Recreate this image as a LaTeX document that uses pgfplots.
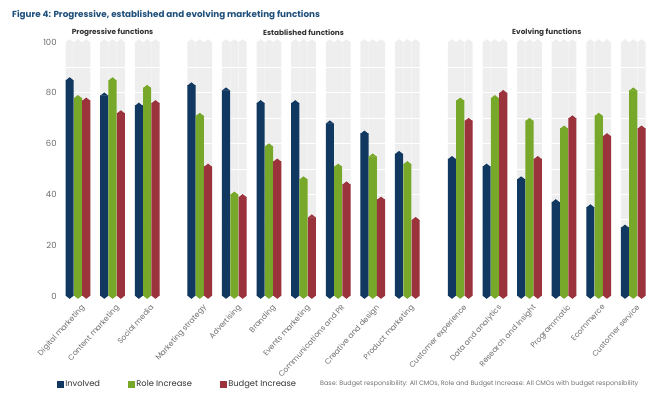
\documentclass[border=0pt]{standalone}
\usepackage{fontspec}
\setmainfont{Poppins}
\usepackage{pgfplots}
\pgfplotsset{compat=1.18}
\usepackage{pgfplotstable}

\definecolor{inv}{RGB}{16,56,96}
\definecolor{role}{RGB}{120,168,42}
\definecolor{bud}{RGB}{155,51,61}
\definecolor{track}{RGB}{238,238,238}
\definecolor{titleblue}{RGB}{30,78,122}
\definecolor{txt}{RGB}{50,50,50}
\definecolor{lbl}{RGB}{110,110,110}

\pgfdeclareplotmark{tipup}{%
  \pgfpathmoveto{\pgfpoint{-\pgfplotmarksize}{-0.4pt}}%
  \pgfpathlineto{\pgfpoint{0pt}{0.7\pgfplotmarksize}}%
  \pgfpathlineto{\pgfpoint{\pgfplotmarksize}{-0.4pt}}%
  \pgfpathclose\pgfusepathqfill}
\pgfdeclareplotmark{tipdown}{%
  \pgfpathmoveto{\pgfpoint{-\pgfplotmarksize}{0.4pt}}%
  \pgfpathlineto{\pgfpoint{0pt}{-0.7\pgfplotmarksize}}%
  \pgfpathlineto{\pgfpoint{\pgfplotmarksize}{0.4pt}}%
  \pgfpathclose\pgfusepathqfill}

\pgfplotstableread{
x     inv role bud full
0     85  78   77  100
1     79  85   72  100
2     75  82   76  100
3.52  83  71   51  100
4.52  81  40   39  100
5.52  76  59   53  100
6.52  76  46   31  100
7.52  68  51   44  100
8.52  64  55   38  100
9.52  56  52   30  100
11.05 54  77   69  100
12.05 51  78   80  100
13.05 46  69   54  100
14.05 37  66   70  100
15.05 35  71   63  100
16.05 27  81   66  100
}\data

\begin{document}
\begin{tikzpicture}
\begin{axis}[
  at={(57.2pt,97pt)}, anchor=south west, scale only axis,
  width=588.2pt, height=254pt,
  xmin=-0.6, xmax=16.4, ymin=0, ymax=100,
  clip=false, set layers,
  axis line style={draw=none}, major tick length=0pt, minor tick length=0pt,
  ytick={0,20,...,100},
  extra y ticks={10,20,...,90}, extra y tick labels={},
  extra y tick style={grid=major},
  major grid style={white, line width=0.9pt},
  /pgf/number format/assume math mode=true,
  yticklabel style={font=\fontsize{8.5}{9}\selectfont, text=lbl, xshift=3pt},
  xtick={0,1,2,3.52,4.52,5.52,6.52,7.52,8.52,9.52,11.05,12.05,13.05,14.05,15.05,16.05},
  xticklabels={Digital marketing,Content marketing,Social media,Marketing strategy,Advertising,Branding,Events marketing,Communications and PR,Creative and design,Product marketing,Customer experience,Data and analytics,Research and Insight,Programmatic,Ecommerce,Customer service},
  xticklabel style={font=\fontsize{7.6}{8}\selectfont, text=lbl, rotate=48, anchor=north east, inner sep=1pt, yshift=-6pt, xshift=-3pt},
  legend columns=3,
  legend style={draw=none, fill=none, at={(-0.006,-0.3465)}, anchor=west,
    font=\fontsize{8.3}{9}\selectfont, text=txt,
    /tikz/every even column/.append style={column sep=26pt}},
  legend cell align=left,
]
% background tracks
\addplot[ybar, bar width=0.235, bar shift=0pt, fill=track, draw=none, on layer=axis background, forget plot] table[x expr=\thisrow{x}-0.24, y=full]{\data};
\addplot[ybar, bar width=0.235, bar shift=0pt, fill=track, draw=none, on layer=axis background, forget plot] table[x=x, y=full]{\data};
\addplot[ybar, bar width=0.235, bar shift=0pt, fill=track, draw=none, on layer=axis background, forget plot] table[x expr=\thisrow{x}+0.24, y=full]{\data};
\addplot[only marks, mark=tipup, mark size=4.07pt, mark options={fill=track, draw=none}, on layer=axis background, forget plot] table[x expr=\thisrow{x}-0.24, y=full]{\data};
\addplot[only marks, mark=tipup, mark size=4.07pt, mark options={fill=track, draw=none}, on layer=axis background, forget plot] table[x=x, y=full]{\data};
\addplot[only marks, mark=tipup, mark size=4.07pt, mark options={fill=track, draw=none}, on layer=axis background, forget plot] table[x expr=\thisrow{x}+0.24, y=full]{\data};
% bars
\addplot[ybar, bar width=0.235, bar shift=0pt, fill=inv, draw=none, forget plot] table[x expr=\thisrow{x}-0.24, y=inv]{\data};
\addplot[ybar, bar width=0.235, bar shift=0pt, fill=role, draw=none, forget plot] table[x=x, y=role]{\data};
\addplot[ybar, bar width=0.235, bar shift=0pt, fill=bud, draw=none, forget plot] table[x expr=\thisrow{x}+0.24, y=bud]{\data};
% top tips
\addplot[only marks, mark=tipup, mark size=4.07pt, mark options={fill=inv, draw=none}, forget plot] table[x expr=\thisrow{x}-0.24, y=inv]{\data};
\addplot[only marks, mark=tipup, mark size=4.07pt, mark options={fill=role, draw=none}, forget plot] table[x=x, y=role]{\data};
\addplot[only marks, mark=tipup, mark size=4.07pt, mark options={fill=bud, draw=none}, forget plot] table[x expr=\thisrow{x}+0.24, y=bud]{\data};
% bottom tips
\addplot[only marks, mark=tipdown, mark size=4.07pt, mark options={fill=inv, draw=none}, forget plot] table[x expr=\thisrow{x}-0.24, y expr=0]{\data};
\addplot[only marks, mark=tipdown, mark size=4.07pt, mark options={fill=role, draw=none}, forget plot] table[x=x, y expr=0]{\data};
\addplot[only marks, mark=tipdown, mark size=4.07pt, mark options={fill=bud, draw=none}, forget plot] table[x expr=\thisrow{x}+0.24, y expr=0]{\data};
% legend
\addlegendimage{legend image code/.code={\fill[inv] (0pt,-3pt) rectangle (6pt,3pt);}}
\addlegendentry{Involved}
\addlegendimage{legend image code/.code={\fill[role] (0pt,-3pt) rectangle (6pt,3pt);}}
\addlegendentry{Role Increase}
\addlegendimage{legend image code/.code={\fill[bud] (0pt,-3pt) rectangle (6pt,3pt);}}
\addlegendentry{Budget Increase}
% group headings
\node[font=\bfseries\fontsize{7.3}{8}\selectfont, text=txt] at (axis cs:1,103.8) {Progressive functions};
\node[font=\bfseries\fontsize{7.3}{8}\selectfont, text=txt] at (axis cs:6.52,103.8) {Established functions};
\node[font=\bfseries\fontsize{7.3}{8}\selectfont, text=txt] at (axis cs:13.55,103.8) {Evolving functions};
\end{axis}
\node[anchor=west, inner sep=0pt, font=\bfseries\fontsize{8.8}{10}\selectfont, text=titleblue] at (12pt,378pt) {Figure 4: Progressive, established and evolving marketing functions};
\node[anchor=west, inner sep=0pt, font=\fontsize{6.4}{7}\selectfont, text=lbl] at (320pt,9pt) {Base: Budget responsibility: All CMOs, Role and Budget Increase: All CMOs with budget responsibility};
\pgfresetboundingbox
\useasboundingbox (0,0) rectangle (650pt,393pt);
\end{tikzpicture}
\end{document}
